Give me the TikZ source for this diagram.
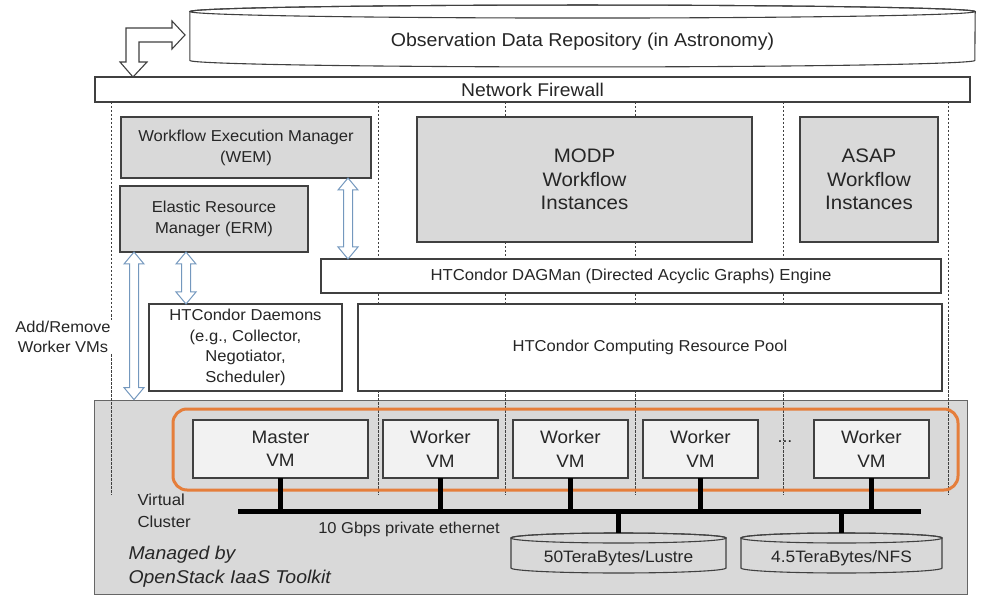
\documentclass[tikz,border=0pt]{standalone}
\usepackage{fontspec}
\setmainfont{Liberation Sans}[FakeStretch=1.05]
\usepackage{tikz}
\usetikzlibrary{positioning,calc,backgrounds}
\definecolor{boxgray}{HTML}{D9D9D9}
\definecolor{vmwhite}{HTML}{F2F2F2}
\definecolor{clusterorange}{HTML}{E57E3B}
\definecolor{arrowblue}{HTML}{7498BE}
\definecolor{inkgray}{HTML}{262626}
\definecolor{edgegray}{HTML}{404040}

% storage drum round a named node: node, x radius, y radius, fill
\newcommand{\drum}[4]{%
  \filldraw[drumline, fill=#4] (#1.north west) -- (#1.south west)
    arc[start angle=180, end angle=360, x radius=#2, y radius=#3] -- (#1.north east)
    arc[start angle=0, end angle=180, x radius=#2, y radius=#3] -- cycle;
  \draw[drumline] (#1.north) ellipse[x radius=#2, y radius=#3];}
% hollow up/down arrow: x, upper anchor, lower anchor
\newcommand{\updown}[3]{%
  \draw[hollow] let \p1=(#1,0 |- #2), \p2=(#1,0 |- #3) in
    (\x1,\y1) -- ++(10pt,-12pt) -- ++(-5.5pt,0pt) -- (\x1+4.5pt,\y2+12pt) -- ++(5.5pt,0pt)
    -- (\x1,\y2) -- ++(-10pt,12pt) -- ++(5.5pt,0pt) -- (\x1-4.5pt,\y1-12pt) -- ++(-5.5pt,0pt) -- cycle;}

\begin{document}
\begin{tikzpicture}[x=1pt, y=-1pt,
    every node/.style={text=inkgray},
    box/.style={rectangle, draw=edgegray, line width=1.1pt, inner sep=2pt, outer sep=0pt, align=center, font=\fontsize{15.8}{21}\selectfont},
    graybox/.style={box, fill=boxgray},
    whitebox/.style={box, fill=white},
    vm/.style={box, fill=vmwhite, minimum width=115, minimum height=58, font=\fontsize{18}{23.5}\selectfont},
    store/.style={rectangle, inner sep=0pt, outer sep=0pt, minimum height=30, text height=18pt, text depth=0pt, font=\fontsize{16.5}{18}\selectfont},
    drumline/.style={draw=edgegray, line width=1.1pt},
    hollow/.style={draw=arrowblue, fill=white, line width=1pt, line join=miter},
    blockarr/.style={draw=edgegray, fill=white, line width=1.1pt, line join=miter},
    sep/.style={draw=edgegray, line width=0.7pt, dash pattern=on 2.5pt off 1.5pt},
    wire/.style={draw=black, line width=5pt}
]
    \useasboundingbox (0,0) rectangle (987,601);

    % Repository and firewall
    \node (repo) [rectangle, inner sep=0pt, minimum width=785, minimum height=48.5, text height=22pt, text depth=0pt, font=\fontsize{18.6}{22}\selectfont] at (582.5,36) {Observation Data Repository (in Astronomy)};
    \node (fw) [whitebox, minimum width=875, minimum height=25, font=\fontsize{18.4}{20}\selectfont] at (532.5,89.5) {Network Firewall};

    % Managers and workflows
    \node (wem) [graybox, minimum width=250, minimum height=61] at (246,147.5) {Workflow Execution Manager\\(WEM)};
    \node (erm) [graybox, minimum width=188, minimum height=66] at (214,219) {Elastic Resource\\Manager (ERM)};
    \node (modp) [graybox, minimum width=335, minimum height=125, font=\fontsize{19.5}{23.5}\selectfont] at (584.5,179.5) {MODP\\Workflow\\Instances};
    \node (asap) [graybox, minimum width=138, minimum height=125, font=\fontsize{19.5}{23.5}\selectfont] at (869,179.5) {ASAP\\Workflow\\Instances};

    % HTCondor
    \node (dag) [whitebox, minimum width=620, minimum height=34, font=\fontsize{15.9}{19}\selectfont] at (631,276) {HTCondor DAGMan (Directed Acyclic Graphs) Engine};
    \node (daemons) [whitebox, minimum width=193, minimum height=87, font=\fontsize{15.8}{20.5}\selectfont] at (245.5,347.5) {HTCondor Daemons\\(e.g., Collector,\\Negotiator,\\Scheduler)};
    \node (pool) [whitebox, minimum width=584, minimum height=87] at (650,347.5) {HTCondor Computing Resource Pool};
    \node (addrm) [fill=white, align=center, inner sep=1pt, font=\fontsize{15.7}{20}\selectfont] at (63,337) {Add/Remove\\Worker VMs};

    % Virtual cluster
    \node (cluster) [rectangle, draw=clusterorange, line width=3pt, rounded corners=14pt, minimum width=785, minimum height=81] at (565.5,449.5) {};
    \node (master) [vm, minimum width=175] at (280.5,449) {Master\\VM};
    \node (w1) [vm, right=15pt of master] {Worker\\VM};
    \node (w2) [vm, right=15pt of w1] {Worker\\VM};
    \node (w3) [vm, right=15pt of w2] {Worker\\VM};
    \node (w4) [vm, right=56pt of w3] {Worker\\VM};
    \node (dots) [font=\fontsize{17}{19}\selectfont] at (785,442) {...};

    \coordinate (busL) at (238,511);
    \coordinate (busR) at (921,511);
    \node (lus) [store, minimum width=215] at (618.5,553) {50TeraBytes/Lustre};
    \node (nfs) [store, minimum width=201] at (841.5,553) {4.5TeraBytes/NFS};

    \node (vclabel) [anchor=west, align=left, font=\fontsize{16}{22}\selectfont] at (134,511) {Virtual\\Cluster};
    \node (ethlabel) [font=\fontsize{15.7}{18}\selectfont] at (409,529) {10 Gbps private ethernet};
    \node (mgdlabel) [anchor=west, align=left, font=\fontsize{18.5}{24}\selectfont\itshape] at (125,567) {Managed by\\OpenStack IaaS Toolkit};

    \begin{scope}[on background layer]
        \node (panel) [rectangle, draw=edgegray!80, fill=boxgray, line width=0.8pt, minimum width=873, minimum height=194] at (530.5,497) {};
        \foreach \sx in {111,378,505,635,783,948}
            \draw[sep] (\sx,0 |- fw.south) -- (\sx,495);
        \drum{repo}{392.5pt}{6.5pt}{white}
        \drum{lus}{107.5pt}{5pt}{boxgray}
        \drum{nfs}{100.5pt}{5pt}{boxgray}
    \end{scope}

    % Connectors
    \draw[blockarr] (133,0 |- fw.north) -- ++(14,-15) -- ++(-8,0) -- ++(0,-20) -- ++(33,0) -- ++(0,7)
        -- ++(13,-14) -- ++(-13,-14) -- ++(0,7) -- ++(-46,0) -- ++(0,34) -- ++(-6,0) -- cycle;
    \updown{348}{wem.south}{dag.north}
    \updown{134}{erm.south}{panel.north}
    \updown{186}{erm.south}{daemons.north}

    \draw[wire] (busL) -- (busR);
    \foreach \vm in {master,w1,w2,w3,w4}
        \draw[wire] (\vm.south) -- (\vm.south |- busL);
    \draw[wire] (lus.north |- busL) -- ($(lus.north)+(0,-5)$);
    \draw[wire] (nfs.north |- busL) -- ($(nfs.north)+(0,-5)$);
\end{tikzpicture}
\end{document}
